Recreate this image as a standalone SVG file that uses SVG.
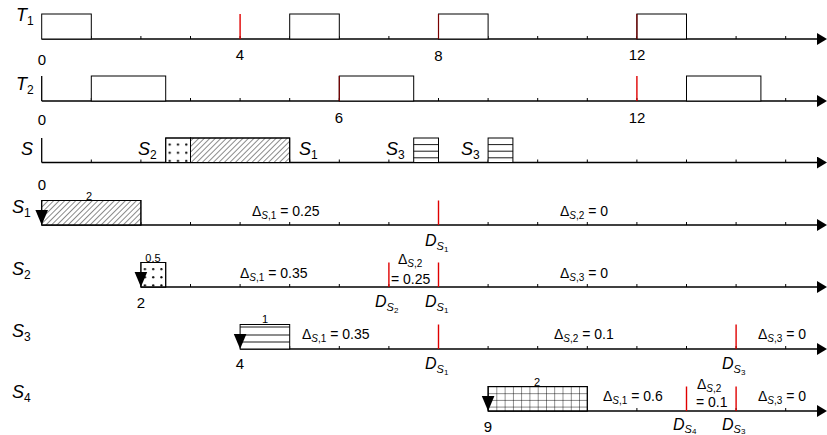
<svg xmlns="http://www.w3.org/2000/svg" width="827" height="435" viewBox="0 0 827 435">
<style>
text{font-family:"Liberation Sans",Arial,sans-serif;fill:#000}
.ax{stroke:#000;stroke-width:1.3;fill:none}
.tk{stroke:#000;stroke-width:1;fill:none}
.bx{stroke:#000;stroke-width:1;fill:#fff}
.hl{stroke:#000;stroke-width:0.9}
.rd{stroke:#e00000;stroke-width:1.4}
.drd{stroke:#7a0000;stroke-width:1.2}
.ah{fill:#000}
.rl{font-size:18px;font-style:italic}
.rs{font-size:12px;font-style:normal}
.num{font-size:15px;text-anchor:middle}
.sm{font-size:11px;text-anchor:middle}
.dt{font-size:14px}
.ds{font-size:10px}
.it{font-style:italic}
.dl{font-size:16px;font-style:italic}
.d1{font-size:11px}
.d2{font-size:8px;font-style:normal}
</style>
<defs>
<pattern id="hatch" patternUnits="userSpaceOnUse" width="3.9" height="3.9" patternTransform="rotate(45)">
<line x1="0" y1="0" x2="0" y2="3.9" stroke="#000" stroke-width="0.9"/>
</pattern>
<pattern id="dots" patternUnits="objectBoundingBox" width="0.3333" height="0.3333">
<circle cx="4" cy="6.5" r="1.1" fill="#000"/>
</pattern>
<pattern id="grid" patternUnits="userSpaceOnUse" x="488.1" y="386.5" width="8.27" height="6.7">
<line x1="0" y1="0" x2="0" y2="6.7" stroke="#000" stroke-width="0.9"/>
<line x1="0" y1="0" x2="8.27" y2="0" stroke="#000" stroke-width="0.9"/>
</pattern>
<marker id="arr" viewBox="0 0 10 12" refX="1" refY="6" markerWidth="10" markerHeight="12" markerUnits="userSpaceOnUse" orient="auto">
<path d="M0,0 L10,6 L0,12 Z" fill="#000"/>
</marker>
</defs>

<!-- row labels -->
<g id="labels">
<text class="rl" x="16" y="21">T<tspan class="rs" dy="4">1</tspan></text>
<text class="rl" x="16" y="90">T<tspan class="rs" dy="4">2</tspan></text>
<text class="rl" x="21" y="155">S</text>
<text class="rl" x="12" y="213">S<tspan class="rs" dy="4">1</tspan></text>
<text class="rl" x="12" y="275">S<tspan class="rs" dy="4">2</tspan></text>
<text class="rl" x="12" y="337">S<tspan class="rs" dy="4">3</tspan></text>
<text class="rl" x="12" y="398">S<tspan class="rs" dy="4">4</tspan></text>
</g>

<!-- connectors: axes, ticks, arrows -->
<g id="connectors">
<line class="ax" x1="41.7" y1="39" x2="818" y2="39" marker-end="url(#arr)"/>
<line class="ax" x1="41.7" y1="101" x2="818" y2="101" marker-end="url(#arr)"/>
<line class="ax" x1="41.7" y1="101" x2="41.7" y2="76"/>
<line class="ax" x1="41.7" y1="162.5" x2="818" y2="162.5" marker-end="url(#arr)"/>
<line class="ax" x1="41.7" y1="162.5" x2="41.7" y2="138"/>
<line class="ax" x1="41.7" y1="225" x2="818" y2="225" marker-end="url(#arr)"/>
<line class="ax" x1="140.9" y1="287" x2="818" y2="287" marker-end="url(#arr)"/>
<line class="ax" x1="240.1" y1="349" x2="818" y2="349" marker-end="url(#arr)"/>
<line class="ax" x1="488.1" y1="411" x2="818" y2="411" marker-end="url(#arr)"/>
<path class="tk" d="M91.3,39v-3M140.9,39v-3M190.5,39v-3M240.1,39v-3M289.7,39v-3M339.3,39v-3M388.9,39v-3M438.5,39v-3M488.1,39v-3M537.7,39v-3M587.3,39v-3M636.9,39v-3M686.5,39v-3M736.1,39v-3M785.7,39v-3"/>
<path class="tk" d="M91.3,101v-3M140.9,101v-3M190.5,101v-3M240.1,101v-3M289.7,101v-3M339.3,101v-3M388.9,101v-3M438.5,101v-3M488.1,101v-3M537.7,101v-3M587.3,101v-3M636.9,101v-3M686.5,101v-3M736.1,101v-3M785.7,101v-3"/>
<path class="tk" d="M91.3,162.5v-3M140.9,162.5v-3M190.5,162.5v-3M240.1,162.5v-3M289.7,162.5v-3M339.3,162.5v-3M388.9,162.5v-3M438.5,162.5v-3M488.1,162.5v-3M537.7,162.5v-3M587.3,162.5v-3M636.9,162.5v-3M686.5,162.5v-3M736.1,162.5v-3M785.7,162.5v-3"/>
<path class="tk" d="M91.3,225v-3M140.9,225v-3M190.5,225v-3M240.1,225v-3M289.7,225v-3M339.3,225v-3M388.9,225v-3M438.5,225v-3M488.1,225v-3M537.7,225v-3M587.3,225v-3M636.9,225v-3M686.5,225v-3M736.1,225v-3M785.7,225v-3"/>
<path class="tk" d="M190.5,287v-3M240.1,287v-3M289.7,287v-3M339.3,287v-3M388.9,287v-3M438.5,287v-3M488.1,287v-3M537.7,287v-3M587.3,287v-3M636.9,287v-3M686.5,287v-3M736.1,287v-3M785.7,287v-3"/>
<path class="tk" d="M289.7,349v-3M339.3,349v-3M388.9,349v-3M438.5,349v-3M488.1,349v-3M537.7,349v-3M587.3,349v-3M636.9,349v-3M686.5,349v-3M736.1,349v-3M785.7,349v-3"/>
<path class="tk" d="M587.3,411v-3M636.9,411v-3M686.5,411v-3M736.1,411v-3M785.7,411v-3"/>
<!-- deadlines -->
<line class="rd" x1="240.1" y1="14" x2="240.1" y2="39"/>
<line class="rd" x1="636.9" y1="76" x2="636.9" y2="101"/>
<line class="rd" x1="438.5" y1="200.5" x2="438.5" y2="225"/>
<line class="rd" x1="388.9" y1="262.5" x2="388.9" y2="287"/>
<line class="rd" x1="438.5" y1="262.5" x2="438.5" y2="287"/>
<line class="rd" x1="438.5" y1="324.5" x2="438.5" y2="349"/>
<line class="rd" x1="736.1" y1="324.5" x2="736.1" y2="349"/>
<line class="rd" x1="686.5" y1="386.5" x2="686.5" y2="411"/>
<line class="rd" x1="736.1" y1="386.5" x2="736.1" y2="411"/>
</g>

<!-- T1 jobs -->
<g id="T1">
<rect class="bx" x="41.7" y="14" width="49.6" height="25"/>
<rect class="bx" x="289.7" y="14" width="49.6" height="25"/>
<rect class="bx" x="438.5" y="14" width="49.6" height="25"/>
<rect class="bx" x="636.9" y="14" width="49.6" height="25"/>
<line class="drd" x1="438.5" y1="14" x2="438.5" y2="39"/>
<line class="drd" x1="636.9" y1="14" x2="636.9" y2="39"/>
<text class="num" x="42" y="65">0</text>
<text class="num" x="240" y="60">4</text>
<text class="num" x="438.5" y="61">8</text>
<text class="num" x="637" y="60">12</text>
</g>

<!-- T2 jobs -->
<g id="T2">
<rect class="bx" x="91.3" y="76" width="74.4" height="25"/>
<rect class="bx" x="339.3" y="76" width="74.4" height="25"/>
<rect class="bx" x="686.5" y="76" width="74.4" height="25"/>
<line class="drd" x1="339.3" y1="76" x2="339.3" y2="101"/>
<text class="num" x="42" y="125">0</text>
<text class="num" x="339" y="123">6</text>
<text class="num" x="637" y="123">12</text>
</g>

<!-- S server -->
<g id="S">
<rect class="bx" x="165.7" y="138" width="24.8" height="24.5"/>
<rect x="165.7" y="138" width="24.8" height="24.5" fill="url(#dots)" stroke="#000" stroke-width="1"/>
<rect class="bx" x="190.5" y="138" width="99.2" height="24.5"/>
<rect x="190.5" y="138" width="99.2" height="24.5" fill="url(#hatch)" stroke="#000" stroke-width="1"/>
<rect class="bx" x="413.7" y="138" width="24.8" height="24.5"/>
<path class="hl" d="M413.7,144.6h24.8M413.7,151.2h24.8M413.7,157.8h24.8"/>
<rect class="bx" x="488.1" y="138" width="24.8" height="24.5"/>
<path class="hl" d="M488.1,144.6h24.8M488.1,151.2h24.8M488.1,157.8h24.8"/>
<text class="rl" x="138" y="155">S<tspan class="rs" dy="4">2</tspan></text>
<text class="rl" x="299" y="155">S<tspan class="rs" dy="4">1</tspan></text>
<text class="rl" x="386" y="155">S<tspan class="rs" dy="4">3</tspan></text>
<text class="rl" x="461" y="155">S<tspan class="rs" dy="4">3</tspan></text>
<text class="num" x="42" y="190">0</text>
</g>

<!-- S1 job -->
<g id="S1">
<rect class="bx" x="41.7" y="200.5" width="99.2" height="24.5"/>
<rect x="41.7" y="200.5" width="99.2" height="24.5" fill="url(#hatch)" stroke="#000" stroke-width="1"/>
<path class="ah" d="M35.4,210 L48,210 L41.7,225 Z"/>
<text class="sm" x="89" y="200">2</text>
<text class="dt" x="252" y="216">Δ<tspan class="ds" dy="3"><tspan class="it">S</tspan>,1</tspan><tspan dy="-3"> = 0.25</tspan></text>
<text class="dt" x="560" y="216">Δ<tspan class="ds" dy="3"><tspan class="it">S</tspan>,2</tspan><tspan dy="-3"> = 0</tspan></text>
<text class="dl" x="425" y="246">D<tspan class="d1" dy="4">S</tspan><tspan class="d2" dy="2">1</tspan></text>
</g>

<!-- S2 job -->
<g id="S2">
<rect class="bx" x="140.9" y="262.5" width="24.8" height="24.5"/>
<rect x="140.9" y="262.5" width="24.8" height="24.5" fill="url(#dots)" stroke="#000" stroke-width="1"/>
<path class="ah" d="M134.6,272 L147.2,272 L140.9,287 Z"/>
<text class="sm" x="153" y="262">0.5</text>
<text class="dt" x="240" y="278">Δ<tspan class="ds" dy="3"><tspan class="it">S</tspan>,1</tspan><tspan dy="-3"> = 0.35</tspan></text>
<text class="dt" x="398" y="264">Δ<tspan class="ds" dy="2.5"><tspan class="it">S</tspan>,2</tspan></text>
<text class="dt" x="391" y="284">= 0.25</text>
<text class="dt" x="560" y="278">Δ<tspan class="ds" dy="3"><tspan class="it">S</tspan>,3</tspan><tspan dy="-3"> = 0</tspan></text>
<text class="num" x="141" y="308">2</text>
<text class="dl" x="375" y="307">D<tspan class="d1" dy="4">S</tspan><tspan class="d2" dy="2">2</tspan></text>
<text class="dl" x="425" y="307">D<tspan class="d1" dy="4">S</tspan><tspan class="d2" dy="2">1</tspan></text>
</g>

<!-- S3 job -->
<g id="S3">
<rect class="bx" x="240.1" y="324.5" width="49.6" height="24.5"/>
<path class="hl" d="M240.1,327h49.6M240.1,335h49.6M240.1,342h49.6"/>
<path class="ah" d="M233.8,334 L246.4,334 L240.1,349 Z"/>
<text class="sm" x="265" y="323">1</text>
<text class="dt" x="302" y="339">Δ<tspan class="ds" dy="3"><tspan class="it">S</tspan>,1</tspan><tspan dy="-3"> = 0.35</tspan></text>
<text class="dt" x="554" y="339">Δ<tspan class="ds" dy="3"><tspan class="it">S</tspan>,2</tspan><tspan dy="-3"> = 0.1</tspan></text>
<text class="dt" x="758" y="339">Δ<tspan class="ds" dy="3"><tspan class="it">S</tspan>,3</tspan><tspan dy="-3"> = 0</tspan></text>
<text class="num" x="240" y="369">4</text>
<text class="dl" x="425" y="369">D<tspan class="d1" dy="4">S</tspan><tspan class="d2" dy="2">1</tspan></text>
<text class="dl" x="722" y="369">D<tspan class="d1" dy="4">S</tspan><tspan class="d2" dy="2">3</tspan></text>
</g>

<!-- S4 job -->
<g id="S4">
<rect class="bx" x="488.1" y="386.5" width="99.2" height="24.5"/>
<rect x="488.1" y="386.5" width="99.2" height="24.5" fill="url(#grid)" stroke="#000" stroke-width="1"/>
<path class="ah" d="M481.8,396 L494.4,396 L488.1,411 Z"/>
<text class="sm" x="537" y="386">2</text>
<text class="dt" x="603" y="401">Δ<tspan class="ds" dy="3"><tspan class="it">S</tspan>,1</tspan><tspan dy="-3"> = 0.6</tspan></text>
<text class="dt" x="697" y="389">Δ<tspan class="ds" dy="2.5"><tspan class="it">S</tspan>,2</tspan></text>
<text class="dt" x="696" y="407">= 0.1</text>
<text class="dt" x="758" y="401">Δ<tspan class="ds" dy="3"><tspan class="it">S</tspan>,3</tspan><tspan dy="-3"> = 0</tspan></text>
<text class="num" x="488" y="432">9</text>
<text class="dl" x="673" y="430">D<tspan class="d1" dy="2.5">S</tspan><tspan class="d2" dy="1">4</tspan></text>
<text class="dl" x="722" y="430">D<tspan class="d1" dy="2.5">S</tspan><tspan class="d2" dy="1">3</tspan></text>
</g>
</svg>
